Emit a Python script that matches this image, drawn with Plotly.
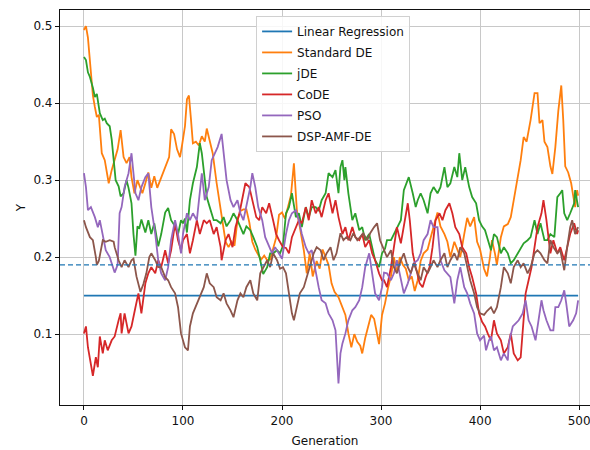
import plotly.graph_objects as go

# ---- data ----
lr_gens = [0, 499]
lr_vals = [0.15, 0.15]
ref_level = 0.19

standard_de = [(0,.495),(2,.50),(4,.485),(7,.443),(9,.41),(11,.395),(13,.382),(15,.385),(18,.335),(21,.326),(23,.31),(25,.296),(28,.313),(31,.326),(34,.34),(37,.365),(40,.33),(43,.322),(46,.33),(48,.304),(51,.283),(54,.30),(57,.29),(59,.283),(62,.296),(65,.31),(68,.29),(71,.305),(74,.29),(77,.30),(80,.31),(83,.318),(86,.33),(88,.366),(91,.36),(94,.34),(97,.33),(99,.345),(102,.37),(104,.405),(106,.41),(108,.38),(110,.348),(113,.35),(116,.345),(119,.357),(122,.35),(124,.367),(127,.352),(130,.335),(134,.296),(137,.27),(140,.24),(143,.22),(146,.213),(149,.22),(152,.215),(155,.248),(158,.26),(161,.262),(164,.262),(167,.245),(170,.22),(173,.21),(176,.203),(179,.197),(182,.202),(185,.196),(188,.197),(191,.21),(194,.225),(197,.255),(200,.258),(203,.25),(206,.265),(209,.28),(212,.322),(215,.26),(218,.239),(222,.209),(225,.179),(228,.205),(231,.175),(235,.195),(238,.185),(241,.21),(244,.2),(247,.19),(250,.166),(253,.155),(257,.148),(261,.135),(264,.125),(267,.101),(270,.083),(273,.1),(276,.09),(279,.085),(281,.075),(284,.095),(287,.11),(290,.125),(293,.12),(296,.1),(298,.087),(301,.125),(304,.14),(307,.16),(310,.175),(313,.2),(316,.18),(319,.2),(322,.19),(325,.185),(328,.17),(331,.175),(334,.156),(337,.17),(340,.195),(343,.205),(347,.21),(350,.225),(353,.24),(357,.258),(360,.24),(364,.23),(367,.22),(370,.2),(374,.22),(377,.21),(380,.2),(384,.23),(387,.251),(390,.24),(394,.252),(397,.22),(400,.21),(404,.185),(407,.175),(410,.2),(412,.222),(415,.205),(417,.19),(421,.226),(424,.24),(428,.243),(431,.252),(434,.274),(437,.296),(441,.326),(444,.356),(447,.35),(451,.378),(455,.413),(458,.413),(460,.374),(463,.378),(465,.35),(468,.343),(471,.318),(473,.308),(476,.343),(479,.39),(482,.423),(484,.378),(486,.318),(489,.31),(492,.296),(494,.28),(496,.265),(498,.287),(499,.28)]

jde = [(0,.46),(2,.456),(4,.44),(6,.434),(9,.42),(11,.408),(13,.412),(14,.404),(16,.387),(19,.378),(21,.38),(23,.374),(26,.37),(28,.353),(30,.33),(32,.30),(35,.292),(37,.279),(40,.283),(43,.30),(45,.29),(48,.27),(50,.23),(52,.202),(54,.24),(56,.238),(58,.249),(60,.24),(62,.232),(65,.248),(68,.23),(71,.244),(73,.23),(75,.214),(78,.23),(82,.258),(85,.264),(88,.248),(92,.24),(95,.23),(98,.248),(100,.244),(102,.25),(104,.232),(107,.274),(110,.296),(114,.317),(117,.348),(119,.335),(121,.31),(124,.278),(127,.265),(131,.248),(134,.248),(138,.244),(141,.252),(144,.24),(148,.248),(151,.257),(155,.248),(158,.24),(161,.23),(164,.24),(168,.235),(171,.226),(175,.213),(178,.196),(181,.178),(185,.187),(188,.205),(191,.205),(195,.209),(198,.205),(201,.215),(204,.257),(207,.265),(210,.283),(214,.252),(217,.257),(220,.239),(224,.265),(227,.252),(230,.265),(234,.265),(237,.26),(240,.274),(244,.283),(247,.309),(251,.304),(254,.313),(257,.283),(259,.317),(261,.326),(263,.30),(264,.317),(267,.283),(271,.248),(274,.257),(278,.235),(281,.239),(284,.222),(288,.23),(291,.213),(294,.196),(298,.187),(301,.205),(304,.211),(306,.222),(310,.222),(313,.23),(316,.239),(320,.248),(323,.287),(325,.295),(328,.304),(332,.283),(335,.265),(337,.274),(340,.283),(343,.274),(347,.257),(350,.283),(353,.291),(357,.283),(360,.291),(364,.317),(367,.291),(370,.296),(374,.317),(377,.304),(379,.335),(382,.30),(385,.317),(389,.291),(392,.278),(396,.27),(399,.248),(402,.24),(405,.235),(408,.222),(411,.209),(414,.23),(417,.226),(421,.205),(424,.213),(428,.205),(431,.192),(434,.196),(438,.205),(441,.213),(444,.218),(448,.222),(451,.226),(455,.248),(458,.23),(461,.244),(465,.222),(468,.222),(471,.23),(475,.226),(478,.278),(481,.283),(483,.287),(485,.257),(488,.248),(491,.257),(495,.27),(496,.287),(499,.265)]

code = [(0,.101),(2,.11),(4,.083),(7,.057),(9,.046),(12,.07),(14,.057),(16,.097),(19,.075),(21,.092),(24,.079),(28,.092),(31,.097),(35,.118),(37,.127),(38,.101),(41,.127),(45,.101),(48,.11),(52,.135),(55,.153),(58,.127),(62,.166),(65,.179),(68,.187),(72,.179),(75,.196),(78,.187),(82,.209),(85,.192),(88,.209),(92,.244),(95,.222),(98,.209),(100,.222),(104,.23),(107,.205),(110,.222),(114,.248),(117,.23),(121,.248),(124,.244),(127,.248),(131,.23),(134,.239),(138,.213),(139,.196),(143,.222),(146,.23),(150,.213),(153,.239),(157,.257),(160,.278),(163,.296),(167,.291),(171,.27),(174,.252),(177,.248),(180,.265),(184,.257),(187,.27),(191,.248),(194,.23),(197,.222),(201,.213),(204,.212),(207,.205),(210,.226),(214,.239),(217,.248),(220,.244),(224,.265),(227,.248),(230,.274),(234,.257),(237,.265),(240,.252),(244,.274),(247,.283),(251,.257),(254,.274),(257,.252),(261,.23),(264,.239),(267,.222),(271,.239),(274,.226),(278,.222),(281,.23),(284,.213),(288,.222),(291,.205),(294,.196),(298,.179),(301,.17),(303,.17),(306,.161),(310,.187),(313,.213),(316,.239),(320,.218),(323,.239),(327,.27),(329,.248),(332,.205),(335,.187),(339,.166),(342,.161),(345,.174),(349,.187),(352,.213),(355,.248),(359,.257),(362,.248),(365,.261),(369,.27),(372,.257),(375,.239),(379,.23),(382,.213),(386,.205),(389,.187),(392,.174),(396,.153),(399,.127),(402,.116),(405,.11),(408,.1),(411,.092),(414,.118),(417,.101),(421,.092),(424,.075),(428,.083),(431,.101),(434,.075),(438,.066),(441,.07),(444,.118),(446,.153),(449,.17),(452,.187),(455,.213),(458,.239),(462,.257),(464,.274),(467,.248),(471,.205),(474,.222),(478,.205),(481,.213),(485,.196),(488,.213),(491,.23),(495,.244),(498,.23),(499,.235)]

pso = [(0,.309),(2,.291),(4,.261),(7,.265),(11,.252),(14,.239),(16,.248),(19,.226),(22,.209),(26,.2),(28,.192),(31,.18),(34,.19),(36,.257),(38,.265),(41,.291),(45,.309),(48,.335),(50,.309),(52,.283),(55,.274),(58,.291),(62,.304),(65,.309),(68,.265),(72,.23),(75,.196),(78,.179),(82,.17),(85,.187),(88,.222),(92,.248),(95,.23),(98,.205),(100,.23),(104,.257),(107,.248),(110,.257),(114,.248),(117,.283),(119,.309),(122,.274),(126,.291),(129,.326),(132,.335),(135,.343),(139,.36),(141,.339),(144,.30),(148,.274),(151,.265),(155,.274),(158,.257),(161,.248),(164,.265),(168,.291),(170,.309),(173,.291),(176,.265),(180,.248),(183,.226),(187,.213),(190,.205),(193,.213),(197,.205),(200,.198),(204,.23),(207,.248),(210,.257),(214,.261),(217,.248),(220,.23),(224,.213),(227,.205),(230,.209),(234,.179),(237,.161),(240,.144),(244,.14),(247,.127),(251,.118),(254,.105),(256,.066),(257,.036),(259,.075),(261,.088),(264,.101),(267,.118),(271,.131),(274,.135),(278,.144),(281,.161),(284,.187),(288,.205),(291,.179),(294,.153),(298,.144),(301,.161),(303,.18),(306,.179),(310,.17),(313,.179),(316,.196),(320,.17),(323,.153),(327,.166),(330,.179),(333,.192),(337,.196),(340,.205),(343,.222),(347,.23),(350,.248),(353,.239),(357,.239),(360,.196),(364,.183),(367,.179),(370,.174),(374,.14),(377,.17),(380,.187),(384,.161),(387,.153),(390,.14),(394,.127),(397,.101),(400,.092),(404,.098),(406,.079),(409,.092),(411,.097),(414,.079),(417,.083),(421,.066),(424,.075),(428,.066),(429,.088),(433,.11),(436,.114),(439,.118),(443,.127),(446,.144),(449,.118),(452,.11),(456,.092),(459,.118),(462,.144),(464,.131),(467,.118),(471,.105),(474,.105),(476,.135),(479,.135),(482,.144),(485,.157),(487,.14),(490,.11),(494,.118),(497,.127),(499,.144)]

dsp_amf_de = [(0,.248),(2,.239),(6,.226),(9,.222),(12,.2),(13,.19),(15,.195),(17,.209),(19,.222),(22,.22),(26,.222),(30,.22),(31,.213),(35,.196),(38,.187),(41,.196),(45,.187),(48,.196),(50,.198),(53,.175),(57,.155),(60,.165),(63,.179),(66,.2),(68,.205),(72,.196),(75,.187),(78,.187),(82,.174),(85,.17),(88,.161),(92,.153),(95,.135),(98,.101),(102,.083),(105,.079),(107,.11),(110,.127),(114,.14),(117,.148),(121,.161),(124,.179),(127,.166),(131,.161),(134,.148),(138,.144),(141,.153),(144,.14),(148,.131),(151,.122),(155,.144),(158,.153),(161,.148),(164,.161),(168,.17),(171,.153),(175,.144),(178,.179),(181,.187),(185,.196),(188,.187),(191,.205),(195,.196),(198,.185),(201,.187),(204,.179),(207,.153),(210,.127),(212,.118),(215,.135),(218,.153),(222,.161),(225,.174),(228,.187),(232,.205),(235,.213),(239,.209),(242,.196),(245,.205),(249,.213),(252,.196),(255,.205),(259,.231),(262,.222),(265,.226),(269,.222),(272,.231),(276,.222),(279,.226),(282,.231),(286,.222),(289,.231),(293,.239),(296,.244),(299,.222),(303,.21),(306,.2),(310,.209),(313,.187),(316,.179),(320,.196),(323,.205),(327,.187),(330,.179),(333,.192),(337,.179),(340,.17),(343,.187),(347,.179),(350,.187),(353,.196),(357,.187),(360,.196),(364,.205),(367,.187),(370,.196),(374,.205),(377,.196),(380,.213),(384,.205),(387,.187),(390,.17),(394,.153),(397,.135),(400,.127),(404,.125),(407,.13),(411,.135),(414,.127),(417,.135),(421,.161),(424,.187),(428,.179),(431,.166),(434,.187),(438,.196),(441,.187),(444,.192),(448,.179),(451,.187),(455,.205),(458,.209),(461,.205),(465,.196),(468,.192),(471,.222),(474,.213),(478,.205),(481,.209),(485,.183),(488,.213),(491,.239),(493,.248),(496,.23),(499,.239)]

series_names = ["Standard DE", "jDE", "CoDE", "PSO", "DSP-AMF-DE"]
series_data = [standard_de, jde, code, pso, dsp_amf_de]
colors = ["#ff7f0e", "#2ca02c", "#d62728", "#9467bd", "#8c564b"]
x_ticks = [0, 100, 200, 300, 400, 500]
y_ticks = [0.1, 0.2, 0.3, 0.4, 0.5]

FONT = "DejaVu Sans"
fig = go.Figure()
fig.add_trace(go.Scatter(x=lr_gens, y=lr_vals, mode="lines", name="Linear Regression",
                         legendgroup="g0", line=dict(color="#1f77b4", width=1.8)))
for i, (name, data, col) in enumerate(zip(series_names, series_data, colors)):
    xs = [p[0] for p in data]
    ys = [p[1] for p in data]
    fig.add_trace(go.Scatter(x=xs, y=ys, mode="lines", name=name, legendgroup=f"g{i+1}",
                             line=dict(color=col, width=1.8)))

fig.add_shape(type="line", xref="paper", x0=0, x1=1, yref="y", y0=ref_level, y1=ref_level,
              line=dict(color="#1f77b4", width=1.2, dash="5px,3px"), layer="above")

fig.update_layout(
    width=590, height=450,
    margin=dict(l=60, r=0, t=10, b=45, autoexpand=False),
    paper_bgcolor="white", plot_bgcolor="white",
    font=dict(family=FONT, size=12, color="#111"),
    showlegend=True,
    legend=dict(x=0.37, y=0.985, xanchor="left", yanchor="top",
                bgcolor="rgba(255,255,255,0.85)", bordercolor="#d0d0d0", borderwidth=1,
                font=dict(family=FONT, size=12, color="#111"),
                tracegroupgap=2, itemwidth=30),
    xaxis=dict(range=[-24.2, 511], tickvals=x_ticks, ticks="outside", ticklen=4,
               tickcolor="#111", showgrid=True, gridcolor="#c8c8c8", gridwidth=1,
               zeroline=False, showline=True, linecolor="#111", linewidth=1.2, mirror=True,
               automargin=False, ticklabeloverflow="allow",
               title=dict(text="Generation", standoff=10, font=dict(size=12))),
    yaxis=dict(range=[0.008, 0.521], tickvals=y_ticks, ticktext=["0.1", "0.2", "0.3", "0.4", "0.5"],
               ticks="outside", ticklen=4, tickcolor="#111",
               showgrid=True, gridcolor="#c8c8c8", gridwidth=1, zeroline=False,
               showline=True, linecolor="#111", linewidth=1.2, mirror=False,
               automargin=False, ticklabeloverflow="allow",
               title=dict(text="Y", standoff=5, font=dict(size=12))),
)

fig.write_html("out.html", config={"displayModeBar": False},
               post_script="document.body.style.margin='0';document.body.style.overflow='hidden';")
